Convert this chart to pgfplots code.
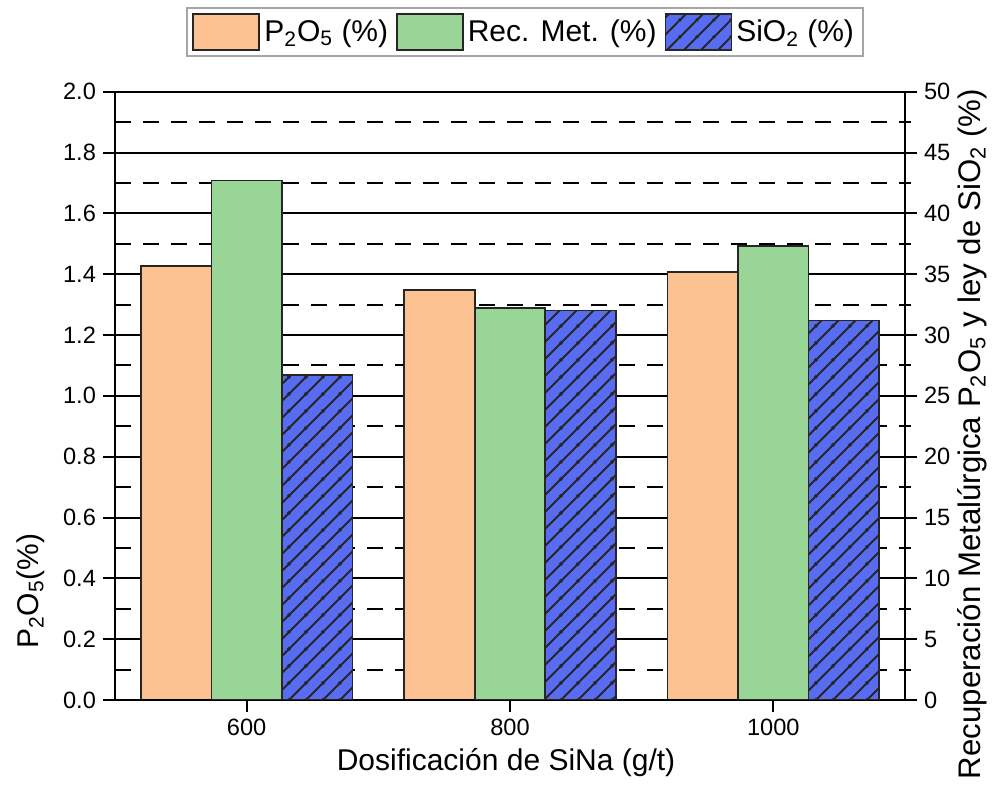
\documentclass[border=0pt]{standalone}
\usepackage{fontspec}
\setmainfont{Liberation Sans}
\usepackage{pgfplots}
\pgfplotsset{compat=1.18}
\usetikzlibrary{patterns.meta}
\definecolor{cOr}{RGB}{252,194,146}
\definecolor{cGr}{RGB}{154,213,152}
\definecolor{cBl}{RGB}{88,108,240}
\tikzdeclarepattern{
  name=widelines,
  type=uncolored,
  bounding box={(0pt,0pt) and (8.5pt,8.5pt)},
  tile size={(8.5pt,8.5pt)},
  code={
    \draw[line width=1pt] (-1pt,-1pt) -- (9.5pt,9.5pt);
    \draw[line width=1pt] (-1pt,7.5pt) -- (1pt,9.5pt);
    \draw[line width=1pt] (7.5pt,-1pt) -- (9.5pt,1pt);
  }
}
\pgfplotsset{
  mylegend/.style={legend image code/.code={\draw[##1] (0pt,-9pt) rectangle (33pt,9pt);}},
  common/.style={
    scale only axis, width=395pt, height=304.15pt,
    xmin=-0.5, xmax=2.5,
    tick align=outside, major tick length=6pt,
    axis line style={-, line width=1pt, black},
    every tick/.style={black, line width=1pt},
    tick label style={font=\fontsize{11.8}{13}\selectfont},
    /pgf/number format/assume math mode=true,
  }
}
\begin{document}
\begin{tikzpicture}
\begin{axis}[
  common,
  ymin=0, ymax=2,
  axis x line*=bottom, axis y line*=left,
  xtick={0,1,2}, xticklabels={600,800,1000},
  ytick distance=0.2, minor y tick num=1, minor tick length=0pt,
  yticklabel style={/pgf/number format/.cd, fixed, fixed zerofill, precision=1},
  ymajorgrids, yminorgrids,
  major grid style={black, line width=1pt},
  minor grid style={black, line width=1pt, dash pattern=on 8pt off 6pt},
  xlabel={Dosificación de SiNa (g/t)},
  ylabel={P\textsubscript{2}O\textsubscript{5}(\%)},
  every axis x label/.style={at={(axis description cs:0.495,-0.1036)}, anchor=center, font=\fontsize{15}{18}\selectfont},
  every axis y label/.style={at={(axis description cs:-0.1063,0.179)}, anchor=center, rotate=90, font=\fontsize{15}{18}\selectfont},
]
\addplot[ybar, bar width=0.268, bar shift=-0.268, fill=cOr, draw=black!85, line width=0.8pt] coordinates {(0,1.427) (1,1.348) (2,1.408)};
\end{axis}
\begin{axis}[
  common,
  ymin=0, ymax=50,
  axis x line*=bottom, axis y line*=right,
  xtick=\empty, minor xtick={-0.5,0.5,1.5,2.5}, minor tick length=3pt,
  ytick distance=5, minor y tick num=1,
  ylabel={Recuperación Metalúrgica P\textsubscript{2}O\textsubscript{5} y ley de SiO\textsubscript{2} (\%)},
  every axis y label/.style={at={(axis description cs:1.0848,0.437)}, anchor=center, rotate=90, font=\fontsize{15.6}{18}\selectfont},
  legend style={at={(axis description cs:0.519,1.098)}, anchor=center, legend columns=3,
    draw=black!35, line width=0.8pt, font=\fontsize{15}{18}\selectfont, inner sep=2.5pt,
    /tikz/every even column/.append style={column sep=2pt}},
]
\addlegendimage{mylegend, fill=cOr, draw=black!85, line width=1.2pt}
\addlegendentry{P\textsubscript{2}O\textsubscript{5} (\%)}
\addplot[ybar, bar width=0.268, bar shift=0, fill=cGr, draw=black!85, line width=0.8pt, mylegend] coordinates {(0,42.7) (1,32.2) (2,37.3)};
\addlegendentry{Rec. Met. (\%)}
\addplot[ybar, bar width=0.268, bar shift=0.268, fill=cBl, draw=black!85, line width=0.8pt, postaction={pattern=widelines, pattern color=black!85}, mylegend] coordinates {(0,26.7) (1,32.0) (2,31.2)};
\addlegendentry{SiO\textsubscript{2} (\%)}
\end{axis}
\pgfresetboundingbox
\useasboundingbox (-57.5pt,-42.5pt) rectangle (440pt,350pt);
\end{tikzpicture}
\end{document}
